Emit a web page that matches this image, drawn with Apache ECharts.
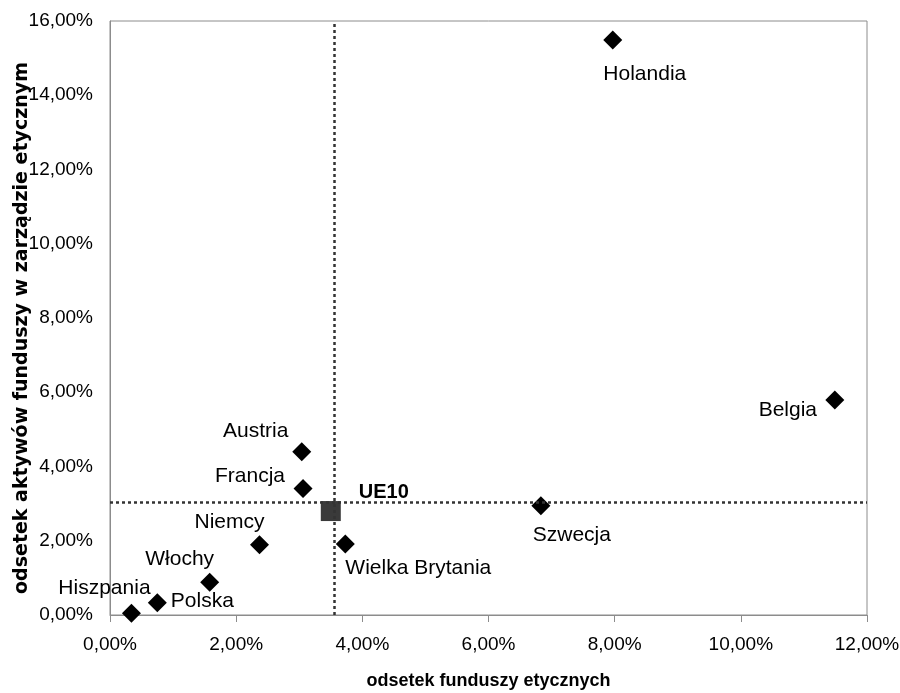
<!DOCTYPE html>
<html><head><meta charset="utf-8">
<script src="https://cdn.jsdelivr.net/npm/echarts@6/dist/echarts.min.js"></script>
<style>html,body{margin:0;padding:0;background:#fff}#c{width:900px;height:693px}</style>
</head><body><div id="c"></div>
<script>
// ---- data ----
const countries = ['Holandia','Belgia','Austria','Francja','Niemcy','Wielka Brytania','Włochy','Polska','Hiszpania','Szwecja'];
const ethicalFundsShare  = [7.97, 11.49, 3.04, 3.06, 2.37, 3.73, 1.58, 0.75, 0.34, 6.83]; // x, %
const ethicalAssetsShare = [15.49, 5.79, 4.40, 3.41, 1.89, 1.91, 0.88, 0.33, 0.05, 2.94]; // y, %
const avgLabel = 'UE10';
const avgFundsShare = 3.50;
const avgAssetsShare = 2.80;
const refLineX = 3.56;
const refLineY = 3.04;
const xAxisTitle = 'odsetek funduszy etycznych';
const yAxisTitle = 'odsetek aktywów funduszy w zarządzie etycznym';
const xMin = 0, xMax = 12, xStep = 2;
const yMin = 0, yMax = 16, yStep = 2;

// ---- styling (label offsets from marker centre) ----
const labelOffsets = {
  'Holandia': [32, 34], 'Belgia': [-47, 10], 'Austria': [-46, -20], 'Francja': [-53, -12],
  'Niemcy': [-30, -23], 'Wielka Brytania': [73, 24], 'Włochy': [-30, -23], 'Polska': [45, -2],
  'Hiszpania': [-27, -25], 'Szwecja': [31, 29]
};
const avgLabelOffset = [53, -19];
const FONT = 'Liberation Sans, Arial, sans-serif';
const pct = v => v.toFixed(2).replace('.', ',') + '%';

const countryData = countries.map((n, i) => ({
  name: n,
  value: [ethicalFundsShare[i], ethicalAssetsShare[i]],
  label: { offset: labelOffsets[n] }
}));

const chart = echarts.init(document.getElementById('c'), null, { renderer: 'canvas' });
chart.setOption({
  animation: false,
  backgroundColor: '#fff',
  textStyle: { fontFamily: FONT },
  grid: { left: 110, right: 33, top: 21, bottom: 78, containLabel: false, outerBoundsMode: 'none',
          show: true, borderColor: '#8c8c8c', borderWidth: 1, backgroundColor: 'transparent' },
  xAxis: {
    type: 'value', min: xMin, max: xMax, interval: xStep,
    name: xAxisTitle, nameLocation: 'middle', nameGap: 57, nameMoveOverlap: false,
    nameTextStyle: { fontFamily: FONT, fontSize: 18, fontWeight: 'bold', color: '#000' },
    axisLine: { show: true, lineStyle: { color: '#8c8c8c', width: 1 } },
    axisTick: { show: true, inside: false, length: 7, lineStyle: { color: '#8c8c8c' } },
    axisLabel: { formatter: pct, fontFamily: FONT, fontSize: 19, color: '#000', margin: 20, showMaxLabel: true, hideOverlap: false },
    splitLine: { show: false }
  },
  yAxis: {
    type: 'value', min: yMin, max: yMax, interval: yStep,
    name: yAxisTitle, nameLocation: 'middle', nameGap: 78, nameRotate: 90, nameMoveOverlap: false,
    nameTextStyle: { fontFamily: 'DejaVu Sans, sans-serif', fontSize: 19, fontWeight: 'bold', color: '#000', padding: [0, 20, 0, 0] },
    axisLine: { show: true, lineStyle: { color: '#8c8c8c', width: 1 } },
    axisTick: { show: false },
    axisLabel: { formatter: pct, fontFamily: FONT, fontSize: 19, color: '#000', margin: 17 },
    splitLine: { show: false }
  },
  series: [
    {
      type: 'scatter', name: 'ref', data: [], z: 1, silent: true,
      markLine: {
        silent: true, symbol: 'none', animation: false,
        label: { show: false },
        lineStyle: { type: [3, 3], color: '#333', width: 2.5, opacity: 1 },
        data: [{ xAxis: refLineX }, { yAxis: refLineY }]
      }
    },
    {
      type: 'scatter', name: 'kraje', z: 3,
      symbol: 'diamond', symbolSize: 19,
      itemStyle: { color: '#000', opacity: 1 },
      label: {
        show: true, position: 'inside', align: 'center', verticalAlign: 'middle',
        formatter: p => p.name, fontFamily: FONT, fontSize: 21, color: '#000'
      },
      data: countryData
    },
    {
      type: 'scatter', name: avgLabel, z: 4,
      symbol: 'rect', symbolSize: 20,
      itemStyle: { color: '#3a3a3a', opacity: 1 },
      label: {
        show: true, position: 'inside', align: 'center', verticalAlign: 'middle', offset: avgLabelOffset,
        formatter: avgLabel, fontFamily: FONT, fontSize: 20, fontWeight: 'bold', color: '#000'
      },
      data: [{ name: avgLabel, value: [avgFundsShare, avgAssetsShare] }]
    }
  ]
});
</script>
</body></html>
